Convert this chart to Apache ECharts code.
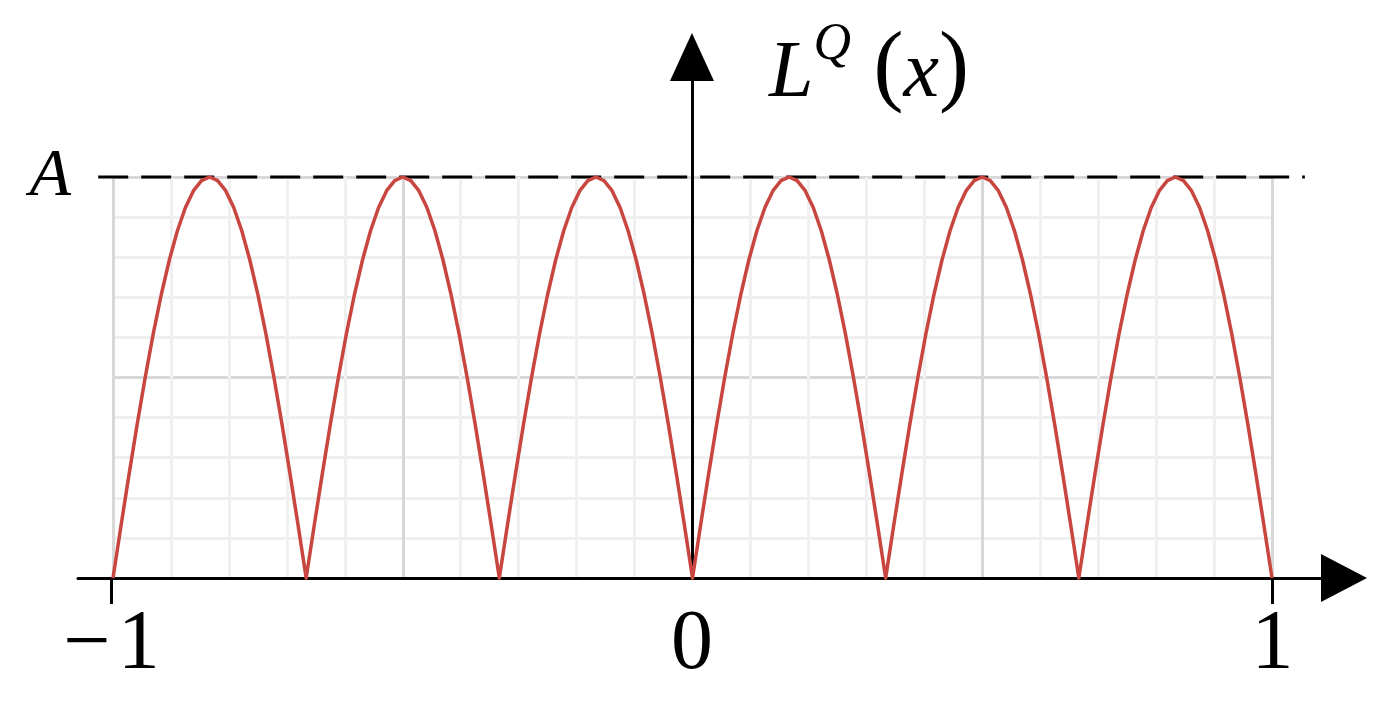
<!DOCTYPE html>
<html>
<head>
<meta charset="utf-8">
<script src="https://cdn.jsdelivr.net/npm/echarts@6/dist/echarts.min.js"></script>
<style>
  html, body { margin: 0; padding: 0; background: #fff; }
  #chart { width: 1386px; height: 710px; }
</style>
</head>
<body>
<div id="chart"></div>
<script>
const lq = [
  0, 0.131, 0.259, 0.383, 0.5, 0.609, 0.707, 0.793, 0.866, 0.924, 0.966, 0.991, 1, 0.991, 0.966, 0.924, 0.866, 0.793, 0.707, 0.609, 0.5, 0.383, 0.259, 0.131,
  0, 0.131, 0.259, 0.383, 0.5, 0.609, 0.707, 0.793, 0.866, 0.924, 0.966, 0.991, 1, 0.991, 0.966, 0.924, 0.866, 0.793, 0.707, 0.609, 0.5, 0.383, 0.259, 0.131,
  0, 0.131, 0.259, 0.383, 0.5, 0.609, 0.707, 0.793, 0.866, 0.924, 0.966, 0.991, 1, 0.991, 0.966, 0.924, 0.866, 0.793, 0.707, 0.609, 0.5, 0.383, 0.259, 0.131,
  0, 0.131, 0.259, 0.383, 0.5, 0.609, 0.707, 0.793, 0.866, 0.924, 0.966, 0.991, 1, 0.991, 0.966, 0.924, 0.866, 0.793, 0.707, 0.609, 0.5, 0.383, 0.259, 0.131,
  0, 0.131, 0.259, 0.383, 0.5, 0.609, 0.707, 0.793, 0.866, 0.924, 0.966, 0.991, 1, 0.991, 0.966, 0.924, 0.866, 0.793, 0.707, 0.609, 0.5, 0.383, 0.259, 0.131,
  0, 0.131, 0.259, 0.383, 0.5, 0.609, 0.707, 0.793, 0.866, 0.924, 0.966, 0.991, 1, 0.991, 0.966, 0.924, 0.866, 0.793, 0.707, 0.609, 0.5, 0.383, 0.259, 0.131,
  0
];
const xStart = -1;
const xStep = 1 / 72;
const xTickLabels = [-1, 0, 1];
const xTicks = [-1, 1];
const yTickLabels = [1];          // the level A
const levelA = 1;
const dashedX = [-1.023, 1.056];  // extent of the dashed A line

const SERIF = '"Liberation Serif", "DejaVu Serif", serif';
const curve = lq.map((v, i) => [xStart + i * xStep, v]);

const chart = echarts.init(document.getElementById('chart'), null, { renderer: 'canvas' });

const mathText = (extra) => Object.assign({
  fontFamily: SERIF, fontWeight: 'normal', fontSize: 80, color: '#000', verticalAlign: 'bottom'
}, extra);

chart.setOption({
  backgroundColor: '#fff',
  animation: false,
  title: {
    left: 764,
    top: 14,
    text: '{l|L}{q|Q}{p| (}{x|x}{p|)}',
    textStyle: {
      fontWeight: 'normal',
      rich: {
        l: mathText({ fontStyle: 'italic' }),
        q: mathText({ fontStyle: 'italic', fontSize: 52, padding: [0, 0, 44, 0] }),
        p: mathText({ fontSize: 90 }),
        x: mathText({ fontStyle: 'italic' })
      }
    }
  },
  grid: [
    // plotting area with the light grid
    { left: 113, right: 114, top: 177, bottom: 132 },
    // wider frame carrying the arrowed axes and the dashed A line
    { left: 78, right: 42, top: 57, bottom: 132 }
  ],
  xAxis: [
    {
      gridIndex: 0, type: 'value', min: -1, max: 1, interval: 0.1,
      axisLine: { show: false }, axisTick: { show: false }, axisLabel: { show: false },
      splitLine: { show: true, lineStyle: { color: ['#d8d8d8', '#f0f0f0', '#f0f0f0', '#f0f0f0', '#f0f0f0'], width: 3 } }
    },
    {
      gridIndex: 1, type: 'value', min: -1.0578, max: 1.1234,
      axisLine: { show: true, symbol: ['none', 'triangle'], symbolSize: [48, 46], lineStyle: { color: '#000', width: 3 } },
      axisTick: { show: true, customValues: xTicks, length: 26, lineStyle: { color: '#000', width: 3 } },
      axisLabel: {
        customValues: xTickLabels, margin: 26,
        fontFamily: SERIF, fontSize: 84, color: '#000',
        formatter: v => (v < 0 ? '\u2212\u200a' + Math.abs(v) : String(v))
      },
      splitLine: { show: false }
    }
  ],
  yAxis: [
    {
      gridIndex: 0, type: 'value', min: 0, max: 1, interval: 0.1,
      axisLine: { show: false }, axisTick: { show: false },
      axisLabel: {
        customValues: yTickLabels, margin: 42,
        fontFamily: SERIF, fontStyle: 'italic', fontSize: 68, color: '#000',
        formatter: () => 'A'
      },
      splitLine: { show: true, lineStyle: { color: ['#d8d8d8', '#efefef', '#efefef', '#efefef', '#efefef'], width: 3 } }
    },
    {
      gridIndex: 1, type: 'value', min: 0, max: 1.2993,
      axisLine: { show: true, onZero: true, symbol: ['none', 'triangle'], symbolSize: [44, 48], lineStyle: { color: '#000', width: 3 } },
      axisTick: { show: false }, axisLabel: { show: false }, splitLine: { show: false }
    }
  ],
  series: [
    {
      type: 'line',
      xAxisIndex: 1, yAxisIndex: 1,
      data: dashedX.map(x => [x, levelA]),
      showSymbol: false,
      lineStyle: { color: '#000', width: 3, type: [30, 13] },
      silent: true, z: 3
    },
    {
      type: 'line',
      xAxisIndex: 0, yAxisIndex: 0,
      data: curve,
      showSymbol: false,
      smooth: false,
      clip: false,
      lineStyle: { color: '#c8463f', width: 3.5, join: 'round' },
      z: 4
    }
  ]
});
</script>
</body>
</html>
